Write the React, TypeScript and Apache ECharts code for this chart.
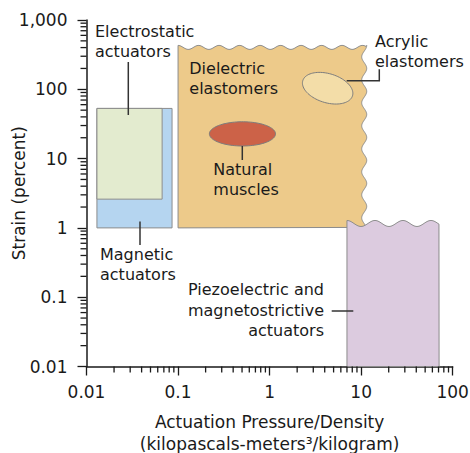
import React, { useEffect, useRef } from "react";
import * as echarts from "echarts";

// ---- data ----
const regionNames = [
  "Dielectric elastomers",
  "Magnetic actuators",
  "Electrostatic actuators",
  "Piezoelectric and magnetostrictive actuators",
];
const regionXMin = [0.1, 0.013, 0.013, 7];
const regionXMax = [11.5, 0.086, 0.067, 71];
const regionYMin = [1, 1, 2.6, 0.01];
const regionYMax = [430, 53, 53, 1.28];

const ellipseNames = ["Natural muscles", "Acrylic elastomers"];
const ellipseXMin = [0.22, 2.24];
const ellipseXMax = [1.16, 8.28];
const ellipseYMin = [15.2, 64];
const ellipseYMax = [34, 168];

const xMinorTicks = [-2, -1, 0, 1].flatMap((k) =>
  [2, 3, 4, 5, 6, 7, 8, 9].map((m) => Number((m * Math.pow(10, k)).toPrecision(3)))
);
const yMinorTicks = [-2, -1, 0, 1, 2].flatMap((k) =>
  [2, 3, 4, 5, 6, 7, 8, 9].map((m) => Number((m * Math.pow(10, k)).toPrecision(3)))
);

// ---- styles ----
const regionColors = ["#edca8a", "#b5d5f0", "#e3ebcf", "#dccbdf"];
const regionWave = ["topRight", "none", "none", "top"];
const ellipseColors = ["#cc6248", "#f3dda8"];
const ellipseRotation = [0, 17];
const FONT = "DejaVu Sans";
const INK = "#1a1a1a";

function wavePointsTop(L: number, R: number, T: number, A: number, P: number) {
  const pts: number[][] = [];
  for (let x = L; x <= R; x += 1) {
    pts.push([x, T + (A * (1 - Math.cos((2 * Math.PI * (x - L)) / P))) / 2]);
  }
  return pts;
}

export default function App() {
  const ref = useRef<HTMLDivElement>(null);
  useEffect(() => {
    if (!ref.current) return;
    const chart = echarts.init(ref.current, null, { renderer: "svg" });

    const regionData = regionNames.map((n, i) => ({
      name: n,
      value: [regionXMin[i], regionXMax[i], regionYMin[i], regionYMax[i]],
    }));
    const ellipseData = ellipseNames.map((n, i) => ({
      name: n,
      value: [ellipseXMin[i], ellipseXMax[i], ellipseYMin[i], ellipseYMax[i]],
    }));

    const lineStyle = { stroke: "#333", lineWidth: 1.5 };
    const annot = (text: string, x: number, y: number, align = "left", lh = 20) => ({
      type: "text",
      x,
      y,
      style: {
        text,
        fill: INK,
        fontSize: 16,
        fontFamily: FONT,
        align,
        verticalAlign: "middle",
        lineHeight: lh,
      },
      z: 100,
    });
    const seg = (x1: number, y1: number, x2: number, y2: number) => ({
      type: "line",
      shape: { x1, y1, x2, y2 },
      style: lineStyle,
      z: 100,
    });

    const fmt = (v: number) => Number(v.toPrecision(3)).toLocaleString("en-US");

    chart.setOption({
      animation: false,
      grid: {
        left: 86.5,
        right: 17.3,
        top: 20,
        bottom: 86.5,
        containLabel: false,
        outerBoundsMode: "none",
      },
      xAxis: {
        type: "log",
        logBase: 10,
        min: 0.01,
        max: 100,
        axisLine: { lineStyle: { color: INK, width: 1.5 } },
        axisTick: { show: true, inside: false, length: 9, lineStyle: { color: INK, width: 1.3 } },
        axisLabel: { color: INK, fontSize: 17, fontFamily: FONT, margin: 17, formatter: fmt },
        splitLine: { show: false },
        minorTick: { show: false },
        name: "Actuation Pressure/Density\n(kilopascals-meters³/kilogram)",
        nameLocation: "middle",
        nameGap: 44,
        nameMoveOverlap: false,
        nameTextStyle: { color: INK, fontSize: 17, fontFamily: FONT, lineHeight: 22, verticalAlign: "top" },
      },
      yAxis: {
        type: "log",
        logBase: 10,
        min: 0.01,
        max: 1000,
        axisLine: { lineStyle: { color: INK, width: 1.5 } },
        axisTick: { show: true, inside: false, length: 9, lineStyle: { color: INK, width: 1.3 } },
        axisLabel: { color: INK, fontSize: 17, fontFamily: FONT, margin: 19, formatter: fmt },
        splitLine: { show: false },
        minorTick: { show: false },
        name: "Strain (percent)",
        nameLocation: "middle",
        nameGap: 59,
        nameMoveOverlap: false,
        nameTextStyle: { color: INK, fontSize: 17, fontFamily: FONT },
      },
      series: [
        {
          type: "custom",
          clip: false,
          data: regionData,
          z: 2,
          renderItem: (params: any, api: any) => {
            const i = params.dataIndex;
            const bl = api.coord([api.value(0), api.value(2)]);
            const tr = api.coord([api.value(1), api.value(3)]);
            const L = bl[0], B = bl[1], R = tr[0], T = tr[1];
            let pts: number[][];
            const w = regionWave[i];
            if (w === "none") {
              pts = [[L, B], [L, T], [R, T], [R, B]];
            } else if (w === "top") {
              pts = [[L, B], ...wavePointsTop(L, R, T, 6, 28), [R, B]];
            } else {
              const top = wavePointsTop(L, R, T, 4, 20.5);
              const right: number[][] = [];
              for (let y = T; y <= B; y += 1) {
                right.push([R - (5 * (1 - Math.cos((2 * Math.PI * (y - T)) / 23))) / 2, y]);
              }
              pts = [[L, B], ...top, ...right, [L, B]];
            }
            return {
              type: "polygon",
              shape: { points: pts },
              style: { fill: regionColors[i], stroke: "#8c8c8c", lineWidth: 1 },
            };
          },
        },
        {
          type: "custom",
          clip: false,
          data: ellipseData,
          z: 3,
          renderItem: (params: any, api: any) => {
            const i = params.dataIndex;
            const a0 = api.coord([api.value(0), api.value(2)]);
            const a1 = api.coord([api.value(1), api.value(3)]);
            const cx = (a0[0] + a1[0]) / 2, cy = (a0[1] + a1[1]) / 2;
            const rx = Math.abs(a1[0] - a0[0]) / 2, ry = Math.abs(a1[1] - a0[1]) / 2;
            const th = (ellipseRotation[i] * Math.PI) / 180;
            const pts: number[][] = [];
            for (let k = 0; k < 90; k++) {
              const t = (2 * Math.PI * k) / 90;
              const ex = rx * Math.cos(t), ey = ry * Math.sin(t);
              pts.push([cx + ex * Math.cos(th) - ey * Math.sin(th), cy + ex * Math.sin(th) + ey * Math.cos(th)]);
            }
            return {
              type: "polygon",
              shape: { points: pts },
              style: { fill: ellipseColors[i], stroke: "#7d7d7d", lineWidth: 1 },
            };
          },
        },
        {
          type: "custom",
          clip: false,
          data: xMinorTicks.map((v) => [v, 0.01]),
          z: 5,
          renderItem: (params: any, api: any) => {
            const p = api.coord([api.value(0), api.value(1)]);
            return {
              type: "line",
              shape: { x1: p[0], y1: p[1], x2: p[0], y2: p[1] + 6 },
              style: { stroke: INK, lineWidth: 1.3 },
            };
          },
        },
        {
          type: "custom",
          clip: false,
          data: yMinorTicks.map((v) => [0.01, v]),
          z: 5,
          renderItem: (params: any, api: any) => {
            const p = api.coord([api.value(0), api.value(1)]);
            return {
              type: "line",
              shape: { x1: p[0] - 6, y1: p[1], x2: p[0], y2: p[1] },
              style: { stroke: INK, lineWidth: 1.3 },
            };
          },
        },
      ],
      graphic: [
        annot("Electrostatic\nactuators", 95, 41),
        seg(128.3, 62, 128.3, 115),
        annot("Magnetic\nactuators", 100, 264.5),
        seg(140, 221.5, 140, 245),
        annot("Dielectric\nelastomers", 189.3, 78.7),
        annot("Natural\nmuscles", 213.3, 179),
        seg(242.3, 146, 242.3, 160),
        annot("Acrylic\nelastomers", 375, 51.2),
        {
          type: "polyline",
          shape: { points: [[346.7, 80.7], [379.3, 80.7], [379.3, 69.3]] },
          style: { stroke: "#333", lineWidth: 1.5, fill: null },
          z: 100,
        },
        annot("Piezoelectric and\nmagnetostrictive\nactuators", 324, 310, "right", 20.5),
        seg(331.7, 311, 353.3, 311),
      ],
    });
    return () => chart.dispose();
  }, []);
  return (
    <div
      ref={ref}
      style={{ position: "fixed", left: 0, top: 0, width: 470, height: 453, background: "#fff" }}
    />
  );
}
